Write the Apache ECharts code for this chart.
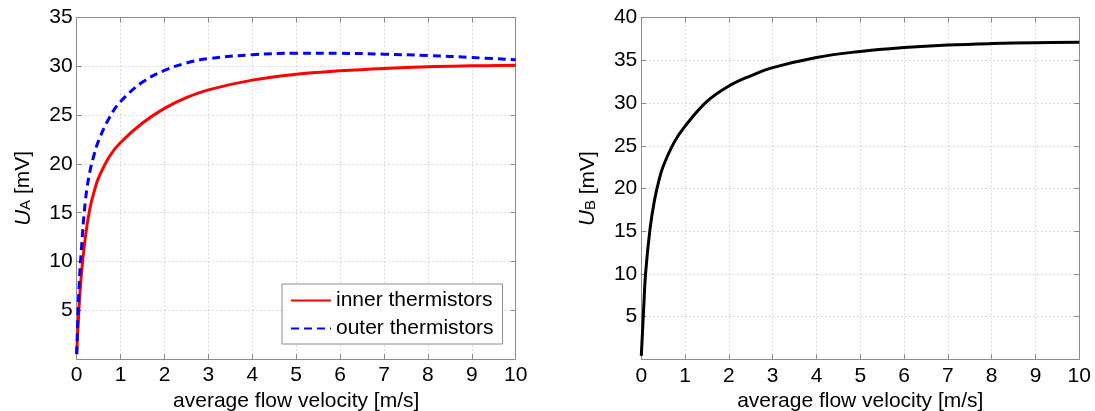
<!DOCTYPE html>
<html>
<head>
<meta charset="utf-8">
<script src="https://cdn.jsdelivr.net/npm/echarts@6/dist/echarts.min.js"></script>
<style>
  html, body { margin: 0; padding: 0; background: #fff; }
  #chart { width: 1095px; height: 411px; }
</style>
</head>
<body>
<div id="chart"></div>
<script>
// values
const velocity = [0, 0.05, 0.1, 0.2, 0.3, 0.4, 0.5, 0.75, 1, 1.5, 2, 2.5, 3, 4, 5, 6, 7, 8, 9, 10];
const innerThermistors = [0.5, 5.0, 8.3, 12.6, 15.4, 17.2, 18.6, 20.8, 22.2, 24.2, 25.7, 26.8, 27.6, 28.6, 29.2, 29.55, 29.8, 29.97, 30.06, 30.12];
const outerThermistors = [0.5, 7.0, 10.8, 16.3, 19.2, 21.0, 22.4, 24.8, 26.4, 28.4, 29.6, 30.35, 30.8, 31.2, 31.36, 31.35, 31.26, 31.12, 30.92, 30.68];
const signalB = [0.4, 5.5, 10.2, 15.3, 18.6, 20.9, 22.6, 25.4, 27.3, 30.2, 32.0, 33.2, 34.15, 35.35, 36.05, 36.5, 36.8, 36.97, 37.06, 37.12];

const FONT = '"Liberation Sans", Helvetica, Arial, sans-serif';
const GRAY = '#8c8c8c';

const pairs = (ys) => velocity.map((v, i) => [v, ys[i]]);

const chart = echarts.init(document.getElementById('chart'));

// main x axis (bottom) and the plain box edge on top
const xAxisBottom = (gridIndex) => ({
  type: 'value', gridIndex, position: 'bottom', min: 0, max: 10, interval: 1,
  name: 'average flow velocity [m/s]', nameLocation: 'middle', nameGap: 26,
  nameTextStyle: { fontFamily: FONT, fontSize: 21, color: '#000' },
  axisLine: { show: true, onZero: false, lineStyle: { color: GRAY, width: 1 } },
  axisTick: { show: true, inside: true, length: 5, lineStyle: { color: GRAY } },
  axisLabel: { fontFamily: FONT, fontSize: 21, color: '#000', margin: 6 },
  splitLine: { show: true, lineStyle: { color: '#bbbbbb', type: [1, 3] } }
});
const xAxisTop = (gridIndex) => ({
  type: 'value', gridIndex, position: 'top', min: 0, max: 10, interval: 1,
  axisLine: { show: true, onZero: false, lineStyle: { color: GRAY, width: 1 } },
  axisTick: { show: true, inside: true, length: 5, lineStyle: { color: GRAY } },
  axisLabel: { show: false },
  splitLine: { show: false }
});

const yAxisLeft = (gridIndex, max, sub) => ({
  type: 'value', gridIndex, position: 'left', min: 0, max, interval: 5,
  name: '{u|U}{s|' + sub + '}{t| [mV]}', nameLocation: 'middle', nameGap: 43,
  nameTextStyle: {
    fontFamily: FONT, fontSize: 21, color: '#000',
    rich: {
      u: { fontFamily: FONT, fontSize: 22, fontStyle: 'italic', color: '#000', verticalAlign: 'top', lineHeight: 21 },
      s: { fontFamily: FONT, fontSize: 15, color: '#000', verticalAlign: 'bottom', lineHeight: 15, padding: [18, 0, 0, 0] },
      t: { fontFamily: FONT, fontSize: 21, color: '#000', verticalAlign: 'top', lineHeight: 21 }
    }
  },
  axisLine: { show: true, onZero: false, lineStyle: { color: GRAY, width: 1 } },
  axisTick: { show: true, inside: true, length: 5, lineStyle: { color: GRAY } },
  axisLabel: { fontFamily: FONT, fontSize: 21, color: '#000', margin: 4,
    formatter: (v) => (v === 0 ? '' : String(v)) },
  splitLine: { show: true, lineStyle: { color: '#bbbbbb', type: [1, 3] } }
});
const yAxisRight = (gridIndex, max) => ({
  type: 'value', gridIndex, position: 'right', min: 0, max, interval: 5,
  axisLine: { show: true, onZero: false, lineStyle: { color: GRAY, width: 1 } },
  axisTick: { show: true, inside: true, length: 5, lineStyle: { color: GRAY } },
  axisLabel: { show: false },
  splitLine: { show: false }
});

const lineSeries = (name, data, color, type, xi, yi) => ({
  name, type: 'line', data, xAxisIndex: xi, yAxisIndex: yi,
  showSymbol: false, symbol: 'none', smooth: 0.4,
  lineStyle: { color, width: 3, type },
  itemStyle: { color },
  z: 5
});

chart.setOption({
  animation: false,
  backgroundColor: '#fff',
  grid: [
    { left: 76.7, top: 17.7, width: 439, height: 341.3, outerBoundsMode: 'none', containLabel: false },
    { left: 641.3, top: 17.7, width: 438, height: 341.6, outerBoundsMode: 'none', containLabel: false }
  ],
  xAxis: [xAxisBottom(0), xAxisTop(0), xAxisBottom(1), xAxisTop(1)],
  yAxis: [yAxisLeft(0, 35, 'A'), yAxisRight(0, 35), yAxisLeft(1, 40, 'B'), yAxisRight(1, 40)],
  legend: {
    data: ['inner thermistors', 'outer thermistors'],
    left: 282, top: 284, orient: 'vertical',
    itemWidth: 40, itemHeight: 14, itemGap: 7,
    padding: [6, 9, 5, 8],
    borderColor: GRAY, borderWidth: 1, backgroundColor: '#fff',
    itemStyle: { color: 'transparent', borderColor: 'transparent', borderWidth: 0, opacity: 0 },
    textStyle: { fontFamily: FONT, fontSize: 21, color: '#000', lineHeight: 21 }
  },
  series: [
    lineSeries('inner thermistors', pairs(innerThermistors), '#ff0000', 'solid', 0, 0),
    lineSeries('outer thermistors', pairs(outerThermistors), '#0000ff', [8, 5], 0, 0),
    lineSeries('U_B', pairs(signalB), '#000000', 'solid', 2, 2)
  ]
});
</script>
</body>
</html>
